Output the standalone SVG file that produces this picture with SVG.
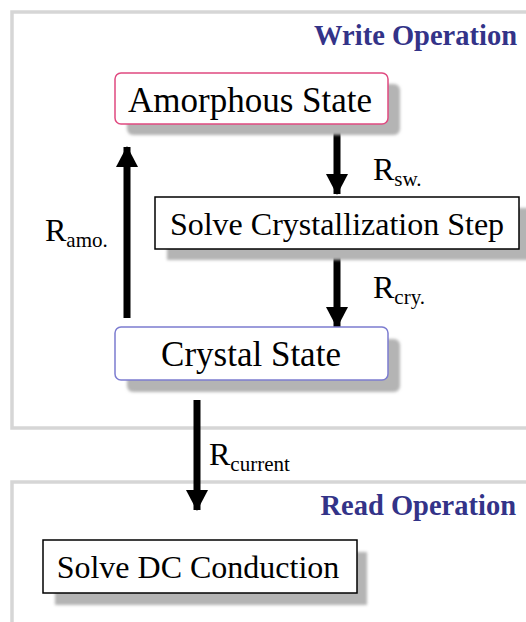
<svg xmlns="http://www.w3.org/2000/svg" width="526" height="622" viewBox="0 0 526 622">
<defs>
<filter id="blur" x="-10%" y="-10%" width="120%" height="130%"><feGaussianBlur stdDeviation="1.5"/></filter>
<marker id="ah" markerUnits="userSpaceOnUse" markerWidth="22" markerHeight="22" refX="20" refY="11" orient="auto" viewBox="0 0 22 22">
<path d="M0,0 L21,11 L0,22 Z" fill="#000"/>
</marker>
<style>
.panel{fill:#ffffff;stroke:#d6d6d6;stroke-width:3.5}
.shadow{fill:#b4b4b4;filter:url(#blur)}
.box{fill:#ffffff;stroke:#000;stroke-width:1.5}
text{font-family:'Liberation Serif','DejaVu Serif','Noto Serif',serif}
.t{fill:#000;font-size:32px;text-anchor:middle}
.big{font-size:35px}
.h{fill:#333388;font-size:28.5px;font-weight:bold;text-anchor:end}
.r{fill:#000;font-size:32px}
.s{font-size:21px}
.c{stroke:#000;stroke-width:7;fill:none;marker-end:url(#ah)}
</style>
</defs>
<rect width="526" height="622" fill="#fff"/>
<g id="write-panel">
<rect class="panel" x="12" y="12" width="530" height="416"/>
<text class="h" x="517" y="45">Write Operation</text>
</g>
<g id="read-panel">
<rect class="panel" x="12" y="482" width="530" height="160"/>
<text class="h" x="516" y="515">Read Operation</text>
</g>
<g id="connectors">
<line class="c" x1="337" y1="124" x2="337" y2="194"/>
<line class="c" x1="337" y1="257" x2="337" y2="327"/>
<line class="c" x1="127" y1="318" x2="127" y2="147"/>
<line class="c" x1="197" y1="400" x2="197" y2="510"/>
<text class="r" x="373" y="180">R<tspan class="s" dy="6">sw.</tspan></text>
<text class="r" x="373" y="298">R<tspan class="s" dy="6">cry.</tspan></text>
<text class="r" x="45" y="241">R<tspan class="s" dy="6">amo.</tspan></text>
<text class="r" x="209" y="465">R<tspan class="s" dy="6">current</tspan></text>
</g>
<g id="amorphous">
<rect class="shadow" x="127" y="84" width="273" height="51" rx="6"/>
<rect class="box" x="115" y="73" width="273" height="51" rx="6" style="stroke:#e04a80"/>
<text class="t big" x="250" y="112">Amorphous State</text>
</g>
<g id="crystallization">
<rect class="shadow" x="167" y="208" width="365" height="52"/>
<rect class="box" x="155" y="197" width="364" height="52"/>
<text class="t" x="337" y="235">Solve Crystallization Step</text>
</g>
<g id="crystal">
<rect class="shadow" x="127" y="339" width="273" height="53" rx="6"/>
<rect class="box" x="115" y="327" width="273" height="53" rx="6" style="stroke:#7c7cd0"/>
<text class="t big" x="251" y="366">Crystal State</text>
</g>
<g id="dc">
<rect class="shadow" x="55" y="552" width="312" height="53"/>
<rect class="box" x="43" y="540" width="314" height="53"/>
<text class="t" x="198" y="578">Solve DC Conduction</text>
</g>
</svg>
